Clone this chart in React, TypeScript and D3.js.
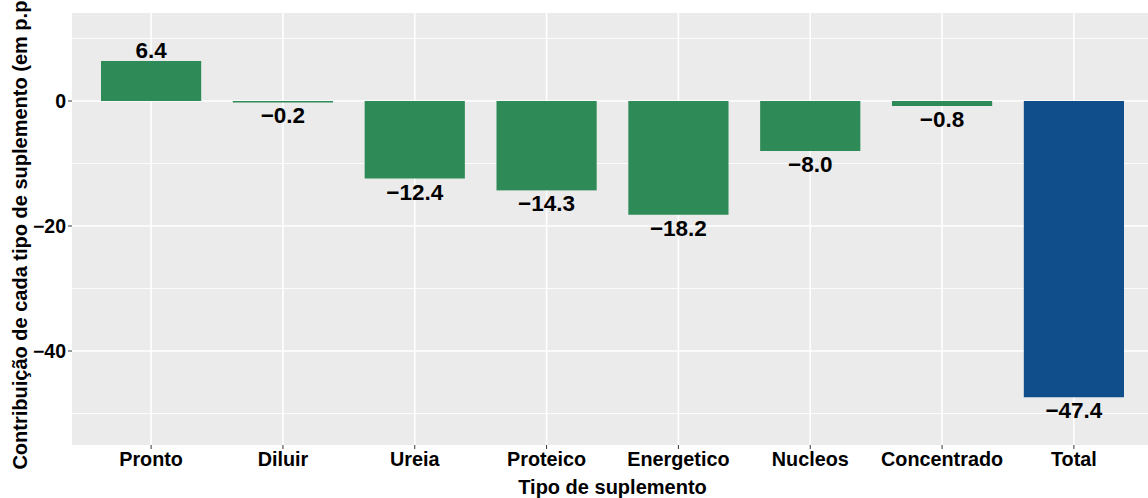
import React from "react";
import * as d3 from "d3";

const categories = ["Pronto", "Diluir", "Ureia", "Proteico", "Energetico", "Nucleos", "Concentrado", "Total"];
const values = [6.4, -0.2, -12.4, -14.3, -18.2, -8.0, -0.8, -47.4];
const majorTicks = [0, -20, -40];
const minorTicks = [10, -10, -30, -50];

const W = 1148;
const H = 498;
const panel = { left: 72, right: 1153, top: 13, bottom: 445 };
const font = "Liberation Sans, Arial, sans-serif";

export default function App() {
  const y = d3.scaleLinear().domain([-55.04, 14.08]).range([panel.bottom, panel.top]);
  const step = (panel.right - panel.left) / (categories.length - 1 + 1.2);
  const x = d3
    .scalePoint<string>()
    .domain(categories)
    .range([panel.left + 0.6 * step, panel.right - 0.6 * step]);
  const barW = step * 0.76;
  const fmt = (v: number) => (v < 0 ? "\u2212" + Math.abs(v).toFixed(1) : v.toFixed(1));
  const fmtTick = (v: number) => (v < 0 ? "\u2212" + Math.abs(v) : String(v));

  return (
    <div style={{ position: "fixed", left: 0, top: 0, width: W, height: H, overflow: "hidden", background: "#fff" }}>
      <svg width={W} height={H} style={{ display: "block", fontFamily: font }}>
        <rect x={panel.left} y={panel.top} width={panel.right - panel.left} height={panel.bottom - panel.top} fill="#EBEBEB" />
        {minorTicks.map((t) => (
          <line key={"mn" + t} x1={panel.left} x2={panel.right} y1={y(t)} y2={y(t)} stroke="#fff" strokeWidth={0.8} />
        ))}
        {majorTicks.map((t) => (
          <line key={"mj" + t} x1={panel.left} x2={panel.right} y1={y(t)} y2={y(t)} stroke="#fff" strokeWidth={1.6} />
        ))}
        {categories.map((c) => (
          <line key={"vx" + c} x1={x(c)} x2={x(c)} y1={panel.top} y2={panel.bottom} stroke="#fff" strokeWidth={1.6} />
        ))}
        {categories.map((c, i) => {
          const v = values[i];
          const y0 = y(0);
          const y1 = y(v);
          return (
            <rect
              key={"b" + c}
              x={(x(c) as number) - barW / 2}
              y={Math.min(y0, y1)}
              width={barW}
              height={Math.max(Math.abs(y1 - y0), 1.5)}
              fill={c === "Total" ? "#104E8B" : "#2E8B57"}
            />
          );
        })}
        {categories.map((c, i) => {
          const v = values[i];
          const yy = v >= 0 ? y(v) - 3 : y(v) + 21;
          return (
            <text key={"l" + c} x={x(c)} y={yy} textAnchor="middle" fontSize={22.5} fontWeight="bold" fill="#000">
              {fmt(v)}
            </text>
          );
        })}
        {majorTicks.map((t) => (
          <g key={"yt" + t}>
            <line x1={panel.left - 4} x2={panel.left} y1={y(t)} y2={y(t)} stroke="#333" strokeWidth={1} />
            <text x={panel.left - 6} y={y(t)} dy="0.35em" textAnchor="end" fontSize={19.5} fontWeight="bold" fill="#000">
              {fmtTick(t)}
            </text>
          </g>
        ))}
        {categories.map((c) => (
          <g key={"xt" + c}>
            <line x1={x(c)} x2={x(c)} y1={panel.bottom} y2={panel.bottom + 4} stroke="#333" strokeWidth={1} />
            <text x={x(c)} y={panel.bottom + 21} textAnchor="middle" fontSize={19.8} fontWeight="bold" fill="#000">
              {c}
            </text>
          </g>
        ))}
        <text x={(panel.left + panel.right) / 2} y={494} textAnchor="middle" fontSize={20} fontWeight="bold" fill="#000">
          Tipo de suplemento
        </text>
        <text
          transform={`translate(27, ${(panel.top + panel.bottom) / 2}) rotate(-90)`}
          textAnchor="middle"
          fontSize={20}
          fontWeight="bold"
          fill="#000"
        >
          Contribuição de cada tipo de suplemento (em p.p.)
        </text>
        <text x={1060} y={509} fontSize={15} fontWeight="bold" fill="#000">
          Fonte: ASBRAM
        </text>
      </svg>
    </div>
  );
}
